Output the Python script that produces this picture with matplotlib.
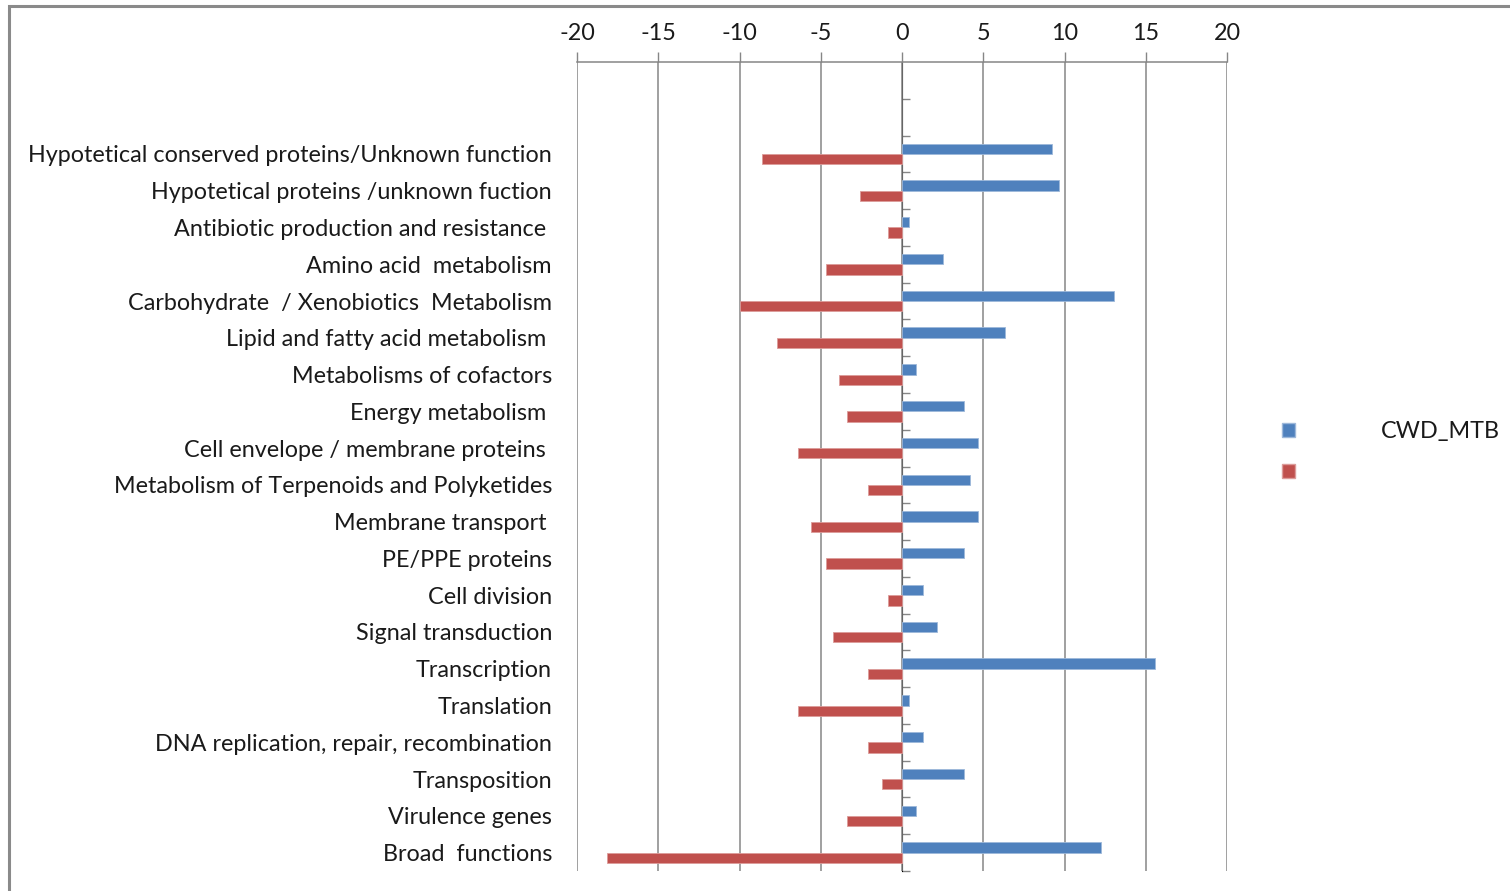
import numpy as np
import matplotlib

matplotlib.use("Agg")
import matplotlib.pyplot as plt
from matplotlib.patches import Rectangle, Patch

plt.rcParams["font.family"] = ["Lato", "DejaVu Sans"]

# --- data -------------------------------------------------------------------
categories = [
    "Hypotetical conserved proteins/Unknown function",
    "Hypotetical proteins /unknown fuction",
    "Antibiotic production and resistance ",
    "Amino acid  metabolism",
    "Carbohydrate  / Xenobiotics  Metabolism",
    "Lipid and fatty acid metabolism ",
    "Metabolisms of cofactors",
    "Energy metabolism ",
    "Cell envelope / membrane proteins ",
    "Metabolism of Terpenoids and Polyketides",
    "Membrane transport ",
    "PE/PPE proteins",
    "Cell division",
    "Signal transduction",
    "Transcription",
    "Translation",
    "DNA replication, repair, recombination",
    "Transposition",
    "Virulence genes",
    "Broad  functions",
]
cwd_mtb = [9.26, 9.65, 0.41, 2.53, 13.06, 6.32, 0.85, 3.82, 4.65, 4.18,
           4.65, 3.82, 1.32, 2.14, 15.56, 0.41, 1.32, 3.82, 0.85, 12.23]
second = [-8.63, -2.58, -0.85, -4.70, -9.95, -7.72, -3.88, -3.41, -6.43, -2.12,
          -5.58, -4.70, -0.85, -4.23, -2.12, -6.43, -2.12, -1.24, -3.41, -18.17]
series_names = ["CWD_MTB", ""]
xticks = [-20, -15, -10, -5, 0, 5, 10, 15, 20]
n_blank = 2  # empty category slots above the first row

BLUE = "#4F81BD"
RED = "#C0504D"
GRID = "#868686"
TXT = "#1a1a1a"
FS = 16.8

W, H = 1510, 891
fig = plt.figure(figsize=(W / 100, H / 100), dpi=100)
ax = fig.add_axes([577 / W, 1 - 871 / H, 650 / W, 809 / H])

y = np.arange(len(categories))
h = 0.28
ax.barh(y - h / 2, cwd_mtb, height=h, color=BLUE, edgecolor="#9DB8DA", linewidth=0.6,
        label=series_names[0], zorder=3)
ax.barh(y + h / 2, second, height=h, color=RED, edgecolor="#DC9C9A", linewidth=0.6,
        label=series_names[1], zorder=3)

ax.set_xlim(xticks[0], xticks[-1])
ax.set_ylim(len(categories) - 0.5, -0.5 - n_blank)

# x axis on top
ax.xaxis.tick_top()
ax.set_xticks(xticks)
ax.set_xticklabels([str(t) for t in xticks])
ax.tick_params(axis="x", direction="out", length=7, width=1, color=GRID,
               labelsize=FS, labelcolor=TXT, pad=6)
ax.grid(axis="x", color=GRID, linewidth=1.1, zorder=0)

# category labels at the plot's left, no ticks there
ax.set_yticks(y)
ax.set_yticklabels(categories)
ax.tick_params(axis="y", length=0, labelsize=FS, labelcolor=TXT, pad=18)

for s in ["left", "right", "bottom"]:
    ax.spines[s].set_visible(False)
ax.spines["top"].set_color(GRID)
ax.spines["top"].set_linewidth(1.1)

# value axis line at zero with category-boundary ticks
zax = ax.secondary_yaxis(0.5)
zax.set_yticks(np.arange(-0.5 - n_blank + 1, len(categories) + 0.5))
zax.set_yticklabels([])
zax.tick_params(axis="y", direction="out", length=6, width=1, color=GRID)
zax.spines["left"].set_color(GRID)
zax.spines["left"].set_linewidth(1.1)

# legend
handles = [Patch(facecolor=BLUE, edgecolor="#9DB8DA"), Patch(facecolor=RED, edgecolor="#DC9C9A")]
fig.legend(handles, series_names, loc="upper left",
           bbox_to_anchor=(1261 / W, 1 - 400 / H), frameon=False,
           fontsize=FS, handlelength=0.55, handleheight=0.55,
           handletextpad=3.7, labelspacing=0.85, labelcolor=TXT)

# chart-area frame (cropped at right and bottom in the reference)
fig.patches.append(Rectangle((9 / W, -0.1), 1.2, 1 - 6 / H + 0.1, transform=fig.transFigure,
                             fill=False, edgecolor="#8a8a8a", linewidth=2.2))

fig.savefig("out.png", dpi=100, facecolor="white")
